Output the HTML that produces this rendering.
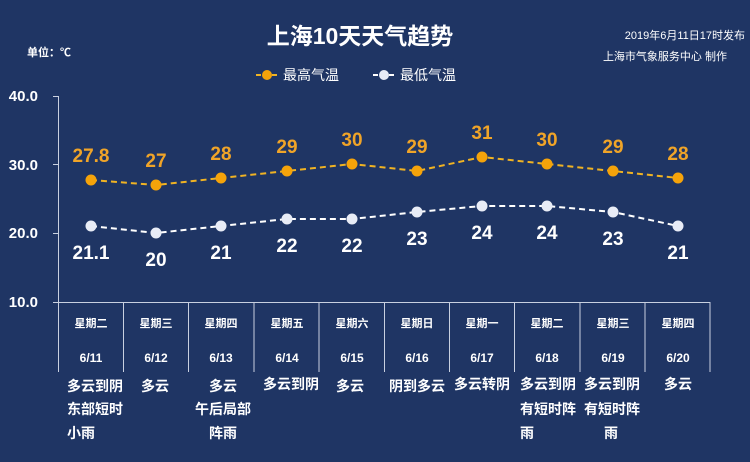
<!DOCTYPE html>
<html><head><meta charset="utf-8"><style>
html,body{margin:0;padding:0;background:#1f3564;}
svg{display:block;font-family:"Liberation Sans","Noto Sans CJK SC",sans-serif;}
</style></head><body>
<svg width="750" height="462" viewBox="0 0 750 462">
<rect width="750" height="462" fill="#1f3564"/>
<text x="360" y="44" text-anchor="middle" fill="#fff" font-size="23" font-weight="bold">上海10天天气趋势</text>
<text x="745" y="39" text-anchor="end" fill="#fff" font-size="11">2019年6月11日17时发布</text>
<text x="727" y="60" text-anchor="end" fill="#fff" font-size="11">上海市气象服务中心  制作</text>
<text x="27" y="56" fill="#fff" font-size="11" font-weight="bold">单位：℃</text>
<g>
<line x1="256" y1="75" x2="278" y2="75" stroke="#f0b323" stroke-width="2" stroke-dasharray="5,3"/>
<circle cx="267" cy="75" r="5" fill="#f5a30a"/>
<text x="283" y="80" fill="#fff" font-size="14">最高气温</text>
<line x1="373" y1="75" x2="395" y2="75" stroke="#fff" stroke-width="2" stroke-dasharray="5,3"/>
<circle cx="384" cy="75" r="5" fill="#e8ecf6"/>
<text x="400" y="80" fill="#fff" font-size="14">最低气温</text>
</g>
<g fill="#fff" font-size="15" font-weight="bold" text-anchor="end">
<text x="38" y="101">40.0</text><text x="38" y="170">30.0</text><text x="38" y="238">20.0</text><text x="38" y="307">10.0</text>
</g>
<g stroke="#c8d0e0" stroke-width="1">
<line x1="58.5" y1="96" x2="58.5" y2="372"/>
<line x1="53" y1="96.5" x2="58" y2="96.5"/><line x1="53" y1="164.5" x2="58" y2="164.5"/><line x1="53" y1="233.5" x2="58" y2="233.5"/>
<line x1="53" y1="302.5" x2="710" y2="302.5"/>
<line x1="123.5" y1="302" x2="123.5" y2="372"/><line x1="188.5" y1="302" x2="188.5" y2="372"/><line x1="254" y1="302" x2="254" y2="372"/><line x1="319" y1="302" x2="319" y2="372"/><line x1="384.5" y1="302" x2="384.5" y2="372"/><line x1="449.5" y1="302" x2="449.5" y2="372"/><line x1="514.5" y1="302" x2="514.5" y2="372"/><line x1="580" y1="302" x2="580" y2="372"/><line x1="645" y1="302" x2="645" y2="372"/><line x1="710" y1="302" x2="710" y2="372"/>
</g>
<polyline points="91,180 156,185 221,178 287,171 352,164 417,171 482,157 547,164 613,171 678,178" fill="none" stroke="#f0b323" stroke-width="2" stroke-dasharray="6,4"/>
<polyline points="91,226 156,233 221,226 287,219 352,219 417,212 482,206 547,206 613,212 678,226" fill="none" stroke="#fff" stroke-width="2" stroke-dasharray="6,4"/>
<g fill="#f5a30a">
<circle cx="91" cy="180" r="5.5"/><circle cx="156" cy="185" r="5.5"/><circle cx="221" cy="178" r="5.5"/><circle cx="287" cy="171" r="5.5"/><circle cx="352" cy="164" r="5.5"/><circle cx="417" cy="171" r="5.5"/><circle cx="482" cy="157" r="5.5"/><circle cx="547" cy="164" r="5.5"/><circle cx="613" cy="171" r="5.5"/><circle cx="678" cy="178" r="5.5"/>
</g>
<g fill="#e8ecf6">
<circle cx="91" cy="226" r="5.5"/><circle cx="156" cy="233" r="5.5"/><circle cx="221" cy="226" r="5.5"/><circle cx="287" cy="219" r="5.5"/><circle cx="352" cy="219" r="5.5"/><circle cx="417" cy="212" r="5.5"/><circle cx="482" cy="206" r="5.5"/><circle cx="547" cy="206" r="5.5"/><circle cx="613" cy="212" r="5.5"/><circle cx="678" cy="226" r="5.5"/>
</g>
<g fill="#f0a428" font-size="19" font-weight="bold" text-anchor="middle">
<text x="91" y="162">27.8</text><text x="156" y="167">27</text><text x="221" y="160">28</text><text x="287" y="153">29</text><text x="352" y="146">30</text><text x="417" y="153">29</text><text x="482" y="139">31</text><text x="547" y="146">30</text><text x="613" y="153">29</text><text x="678" y="160">28</text>
</g>
<g fill="#fff" font-size="19" font-weight="bold" text-anchor="middle">
<text x="91" y="259">21.1</text><text x="156" y="266">20</text><text x="221" y="259">21</text><text x="287" y="252">22</text><text x="352" y="252">22</text><text x="417" y="245">23</text><text x="482" y="239">24</text><text x="547" y="239">24</text><text x="613" y="245">23</text><text x="678" y="259">21</text>
</g>
<g fill="#fff" font-size="11" font-weight="bold" text-anchor="middle">
<text x="91" y="327">星期二</text><text x="156" y="327">星期三</text><text x="221" y="327">星期四</text><text x="287" y="327">星期五</text><text x="352" y="327">星期六</text><text x="417" y="327">星期日</text><text x="482" y="327">星期一</text><text x="547" y="327">星期二</text><text x="613" y="327">星期三</text><text x="678" y="327">星期四</text>
<g font-size="12">
<text x="91" y="362">6/11</text><text x="156" y="362">6/12</text><text x="221" y="362">6/13</text><text x="287" y="362">6/14</text><text x="352" y="362">6/15</text><text x="417" y="362">6/16</text><text x="482" y="362">6/17</text><text x="547" y="362">6/18</text><text x="613" y="362">6/19</text><text x="678" y="362">6/20</text>
</g>
</g>
<g fill="#fff" font-size="14" font-weight="bold">
<text x="67" y="391">多云到阴</text><text x="67" y="414">东部短时</text><text x="67" y="438">小雨</text>
<text x="141" y="391">多云</text>
<text x="223" y="391" text-anchor="middle">多云</text><text x="223" y="414" text-anchor="middle">午后局部</text><text x="223" y="438" text-anchor="middle">阵雨</text>
<text x="263" y="389">多云到阴</text>
<text x="336" y="391">多云</text>
<text x="389" y="391">阴到多云</text>
<text x="454" y="389">多云转阴</text>
<text x="520" y="389">多云到阴</text><text x="520" y="414">有短时阵</text><text x="520" y="438">雨</text>
<text x="584" y="389">多云到阴</text><text x="584" y="414">有短时阵</text><text x="611" y="438" text-anchor="middle">雨</text>
<text x="678" y="389" text-anchor="middle">多云</text>
</g>
</svg>
</body></html>
